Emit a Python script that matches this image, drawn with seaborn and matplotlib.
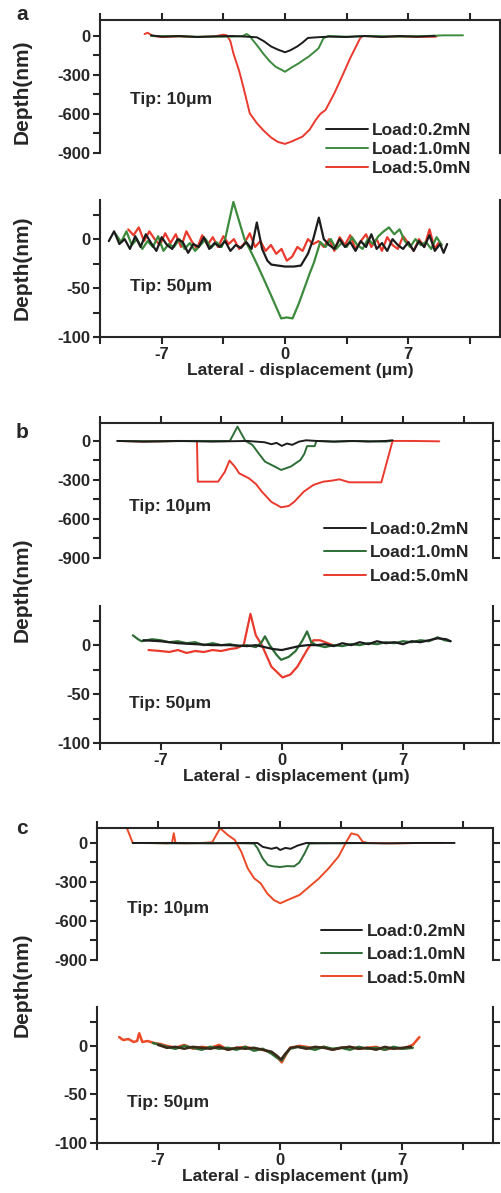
import numpy as np
import matplotlib
matplotlib.use("Agg")
import matplotlib.pyplot as plt
import seaborn as sns

# ---- data (x in um, depth in nm) ----
loads = ["Load:0.2mN", "Load:1.0mN", "Load:5.0mN"]

# panel a, tip 10um
a10_black_x = [-7.6, -7.0, -6.0, -5.0, -4.0, -3.0, -2.2, -1.6, -1.2, -0.8, -0.4, 0.0, 0.3, 0.7, 1.0, 1.3, 1.8, 2.5, 3.5, 4.5, 5.5, 6.5, 7.5, 8.5]
a10_black_y = [5, -5, 0, -8, -3, 0, -5, -10, -40, -80, -105, -125, -110, -80, -50, -15, -10, -5, -8, 0, -8, 0, -5, 0]
a10_green_x = [-7.6, -5.0, -3.0, -2.4, -2.18, -2.0, -1.9, -1.6, -1.25, -0.9, -0.54, -0.2, 0.0, 0.4, 0.78, 1.1, 1.34, 1.6, 1.9, 2.18, 2.46, 3.5, 5.0, 6.5, 8.0, 9.0, 10.1]
a10_green_y = [0, -5, -5, 0, 15, 0, -20, -70, -133, -190, -236, -260, -275, -240, -210, -180, -159, -130, -95, -18, 0, -5, 0, -5, 0, 5, 5]
a10_red_x = [-7.97, -7.8, -7.5, -7.0, -6.0, -5.0, -4.0, -3.5, -3.3, -3.1, -2.93, -2.6, -2.37, -2.0, -1.6, -1.25, -0.8, -0.4, 0.0, 0.4, 0.99, 1.4, 1.74, 2.0, 2.3, 2.8, 3.23, 3.7, 4.26, 4.4, 5.5, 6.5, 7.5, 8.6]
a10_red_y = [15, 25, 0, -8, -3, -8, -3, 10, 5, -40, -133, -270, -390, -595, -670, -723, -780, -815, -830, -810, -774, -720, -646, -600, -569, -440, -313, -170, -18, 0, -5, -3, -8, -5]

# panel a, tip 50um
a50_black_x = [-10.0, -9.7, -9.4, -9.1, -8.8, -8.5, -8.2, -7.9,
               -7.6, -7.3, -7.0, -6.7, -6.4, -6.1, -5.8, -5.5,
               -5.2, -4.9, -4.6, -4.3, -4.0, -3.7, -3.4, -3.1,
               -2.8, -2.5, -2.2, -1.9, -1.6, -1.3, -1.0, -0.78,
               -0.4, 0.0, 0.5, 0.9, 1.3, 1.6, 1.92, 2.2,
               2.5, 2.8, 3.1, 3.4, 3.7, 4.0, 4.3, 4.6,
               4.9, 5.2, 5.5, 5.8, 6.1, 6.4, 6.7, 7.0,
               7.3, 7.6, 7.9, 8.2, 8.5, 8.8, 9.0, 9.2]
a50_black_y = [-2, 8, -5, 0, -10, 3, -8, 5,
               -4, -12, 2, -6, -10, 0, -3, -14,
               -5, -8, 2, -10, -4, -8, -2, -12,
               -6, -9, -3, -10, 17, -10, -22, -26,
               -27, -28, -28, -27, -15, 0, 22, 0,
               -6, -10, 0, -8, -3, -12, -2, -8,
               5, -10, -4, -12, 0, -6, -10, -3,
               -12, -2, -8, 4, -12, -5, -14, -5]
a50_green_x = [-9.6, -9.3, -9.0, -8.7, -8.4, -8.1, -7.8, -7.5,
               -7.2, -6.9, -6.6, -6.3, -6.0, -5.7, -5.4, -5.1,
               -4.8, -4.5, -4.2, -3.9, -3.6, -3.4, -2.93, -2.3,
               -1.9, -1.53, -1.1, -0.78, -0.22, 0.1, 0.43, 0.8,
               1.08, 1.4, 1.64, 2.0, 2.3, 2.6, 2.9, 3.2,
               3.5, 3.8, 4.1, 4.4, 4.7, 5.0, 5.3, 5.6,
               5.9, 6.2, 6.5, 6.8, 7.1, 7.4, 7.7, 8.0,
               8.3, 8.6, 8.9]
a50_green_y = [5, -3, 8, -6, 0, -10, -2, -8,
               3, -12, -5, -8, 0, -10, -4, -12,
               -6, 0, -9, -3, -8, 0, 38, 0,
               -14, -28, -45, -58, -81, -80, -81, -65,
               -51, -35, -24, -3, -8, 0, -10, -4,
               -8, 2, -6, -10, 0, -5, 3, 8,
               12, 5, 10, -2, -8, 0, -6, -3,
               -10, 2, -6]
a50_red_x = [-8.9, -8.6, -8.3, -8.0, -7.7, -7.4, -7.1, -6.8,
             -6.5, -6.2, -5.9, -5.6, -5.3, -5.0, -4.7, -4.4,
             -4.1, -3.8, -3.5, -3.2, -2.9, -2.6, -2.3, -2.0,
             -1.7, -1.4, -1.1, -0.8, -0.5, -0.2, 0.1, 0.4,
             0.7, 1.0, 1.3, 1.6, 1.9, 2.2, 2.5, 2.8,
             3.1, 3.4, 3.7, 4.0, 4.3, 4.6, 4.9, 5.2,
             5.5, 5.8, 6.1, 6.4, 6.7, 7.0, 7.3, 7.6,
             7.9, 8.2, 8.5, 8.7]
a50_red_y = [10, 4, 12, -2, 8, 0, -6, 6,
             -4, 5, -8, 8, -2, -10, 4, -6,
             2, -8, 3, -5, 0, -10, -4, 6,
             -8, -2, -12, -6, -15, -10, -22, -18,
             -8, -12, 0, -5, -2, -8, 0, -12,
             2, -6, 4, -10, -2, 5, -8, 0,
             -12, 2, -6, -10, 3, -4, -12, 0,
             -8, 10, -10, -4]

# panel b, tip 10um
b10_black_x = [-9.5, -8.0, -6.0, -4.0, -2.0, -1.0, -0.6, -0.3, 0.0, 0.3, 0.6, 1.0, 1.4, 2.0, 3.0, 4.0, 5.0, 6.0, 6.4]
b10_black_y = [0, -5, 0, -5, 0, -10, -25, -15, -38, -20, -30, -5, 5, 0, -5, 0, -5, 0, 5]
b10_green_x = [-9.5, -7.0, -5.0, -3.0, -2.56, -2.1, -1.7, -1.34, -0.97, -0.41, -0.04, 0.52, 1.08, 1.3, 1.46, 1.9, 2.0, 3.0, 4.5, 6.0, 6.3]
b10_green_y = [0, -3, 0, 0, 110, 0, -30, -95, -159, -197, -223, -197, -146, -100, -40, -40, 0, -5, 0, -5, 0]
b10_red_x = [-9.46, -8.0, -6.0, -4.9, -4.85, -3.68, -3.3, -3.02, -2.7, -2.46, -1.9, -1.5, -1.15, -0.6, -0.04, 0.4, 0.71, 1.27, 1.83, 2.4, 2.9, 3.33, 3.9, 4.5, 5.75, 6.4, 7.5, 9.1]
b10_red_y = [0, -5, 0, 0, -313, -313, -240, -151, -200, -249, -287, -330, -390, -469, -510, -500, -469, -390, -338, -313, -305, -295, -318, -318, -318, 0, 0, -3]

# panel b, tip 50um
b50_black_x = [-8.0, -7.0, -6.0, -5.0, -4.0, -3.0, -2.0, -1.5, -1.0, -0.5, 0.0, 0.5, 1.0, 1.5, 2.0, 2.5, 3.0, 3.5, 4.0, 4.5, 5.0, 5.5, 6.0, 6.5, 7.0, 7.5, 8.0, 8.5, 9.0, 9.5, 9.75]
b50_black_y = [5, 4, 2, 1, 0, 0, -1, 0, -2, -4, -5, -3, -1, 0, 0, 1, -1, 2, 0, 3, 1, 4, 2, 3, 1, 4, 3, 5, 7, 6, 4]
b50_green_x = [-8.6, -8.3, -8.1, -7.5, -7.0, -6.5, -6.0, -5.5, -5.0, -4.5, -4.0, -3.5, -3.0, -2.5, -2.0, -1.5, -1.2, -0.97, -0.7, -0.3, -0.04, 0.4, 0.8, 1.2, 1.46, 1.7, 2.0, 2.5, 3.0, 3.5, 4.0, 4.5, 5.0, 5.5, 6.0, 6.5, 7.0, 7.5, 8.0, 8.5, 9.0, 9.4, 9.75]
b50_green_y = [10, 6, 4, 6, 5, 3, 4, 2, 3, 0, 2, 0, 1, -1, 0, -2, 2, 9, 0, -10, -15, -12, -6, 5, 14, 3, 0, -2, 0, -1, 1, 0, 2, 1, 3, 2, 4, 3, 5, 4, 8, 5, 4]
b50_red_x = [-7.7, -7.0, -6.5, -6.0, -5.5, -5.0, -4.5, -4.0, -3.5, -3.0, -2.6, -2.2, -1.81, -1.5, -1.15, -0.6, 0.04, 0.5, 0.9, 1.46, 1.83, 2.2, 2.5, 2.95]
b50_red_y = [-5, -6, -7, -5, -8, -6, -7, -5, -6, -4, -3, 0, 32, 10, 0, -22, -33, -30, -22, -5, 5, 5, 3, 0]

# panel c, tip 10um
c10_black_x = [-8.45, -6.0, -4.0, -2.0, -1.3, -1.0, -0.5, -0.2, 0.0, 0.3, 0.6, 1.0, 1.5, 2.5, 4.0, 6.0, 8.0, 10.0]
c10_black_y = [0, 0, -3, 0, 0, -30, -45, -35, -54, -38, -45, -20, 0, -3, 0, -3, 0, 0]
c10_green_x = [-8.45, -6.0, -4.0, -2.0, -1.5, -1.3, -1.0, -0.7, -0.4, 0.0, 0.4, 0.8, 1.1, 1.4, 1.67, 2.5, 3.5, 5.0]
c10_green_y = [0, -3, 0, -3, -5, -40, -120, -170, -180, -185, -178, -180, -150, -80, -5, 0, -3, 0]
c10_red_x = [-8.82, -8.45, -7.5, -6.5, -6.2, -6.1, -6.0, -5.5, -4.5, -3.9, -3.44, -3.0, -2.6, -2.23, -1.86, -1.49, -1.12, -0.75, -0.37, 0.0, 0.56, 1.11, 1.67, 2.23, 2.78, 3.34, 3.8, 4.08, 4.45, 4.73, 5.0, 6.5, 8.0, 9.4]
c10_red_y = [125, 0, 0, -3, 0, 75, 0, -3, 0, 5, 113, 61, 23, -67, -195, -272, -310, -387, -438, -464, -431, -400, -336, -272, -195, -105, 10, 74, 61, 10, 0, -3, 0, 0]

# panel c, tip 50um
c50_black_x = [-7.0, -6.5, -6.0, -5.5, -5.0, -4.5, -4.0, -3.5, -3.0, -2.5, -2.0, -1.5, -1.0, -0.5, -0.2, 0.05, 0.3, 0.6, 1.0, 1.5, 2.0, 2.5, 3.0, 3.5, 4.0, 4.5, 5.0, 5.5, 6.0, 6.5, 7.0, 7.5]
c50_black_y = [1, -2, -1, -3, -1, -2, -3, -1, -4, -2, -3, -2, -4, -6, -10, -14, -8, -2, -1, -3, -1, -2, -4, -2, -1, -3, -2, -4, -1, -3, -2, -1]
c50_green_x = [-7.3, -6.9, -6.5, -6.0, -5.5, -5.0, -4.5, -4.0, -3.5, -3.0, -2.5, -2.0, -1.5, -1.0, -0.5, -0.2, 0.09, 0.3, 0.56, 1.0, 1.5, 2.0, 2.5, 3.0, 3.5, 4.0, 4.5, 5.0, 5.5, 6.0, 6.5, 7.0, 7.6]
c50_green_y = [3, 1, -1, -3, 0, -2, -4, -1, -3, -2, -4, -1, -5, -3, -8, -12, -15, -9, -3, -1, -2, -4, -1, -3, -2, -4, -1, -3, -2, -4, -1, -3, -2]
c50_red_x = [-9.23, -9.0, -8.7, -8.4, -8.2, -8.08, -7.9, -7.6, -7.24, -6.9, -6.5, -6.0, -5.5, -5.0, -4.5, -4.0, -3.5, -3.0, -2.5, -2.0, -1.5, -1.0, -0.5, -0.2, 0.09, 0.3, 0.56, 1.11, 1.5, 2.0, 2.5, 3.0, 3.5, 4.0, 4.5, 5.0, 5.5, 6.0, 6.5, 7.0, 7.3, 7.6, 7.98]
c50_red_y = [9, 6, 7, 4, 5, 13, 4, 5, 3, 2, 0, -2, 1, -3, -1, -2, 1, -4, -2, -1, -3, -4, -7, -11, -17, -10, -2, 0, -1, -3, -1, -4, -2, -1, -3, -2, -1, -4, -2, -3, -1, 1, 9]

x_major = [-7, 0, 7]
x_minor = [-10.5, -3.5, 3.5, 10.5]

# ---- styling ----
sns.set_style("ticks")
plt.rcParams['font.family'] = ['Liberation Sans', 'DejaVu Sans']
plt.rcParams['font.weight'] = 'bold'
plt.rcParams['axes.linewidth'] = 1.5
plt.rcParams['axes.unicode_minus'] = False

BLACK = "#1c1c1c"
GREEN_A = "#3c8a3c"
GREEN = "#2e6e36"
RED = "#ea3a2e"
RED_C = "#ec4a26"

W, H = 502, 1193
fig = plt.figure(figsize=(W / 100, H / 100), dpi=100)


def add_ax(left, top, right, bottom):
    return fig.add_axes([left / W, 1 - bottom / H, (right - left) / W, (bottom - top) / H])


def common(ax):
    ax.set_xlim(-10.0, 12.2)
    ax.set_xticks(x_major)
    ax.set_xticks(x_minor, minor=True)
    ax.tick_params(which='both', direction='out', width=1.5, labelsize=12, pad=2)
    ax.tick_params(which='both', length=5)
    ax.tick_params(axis='y', which='both', left=True, right=True, labelright=False)


def style_top(ax, ymax):
    common(ax)
    ax.set_ylim(-900, ymax)
    ax.spines['bottom'].set_visible(False)
    ax.tick_params(axis='x', which='both', top=True, bottom=False, labeltop=False, labelbottom=False)
    ax.set_yticks([0, -300, -600, -900])
    ax.set_yticks([-150, -450, -750], minor=True)


def style_bottom(ax):
    common(ax)
    ax.set_ylim(-100, 40)
    ax.spines['top'].set_visible(False)
    ax.set_yticks([0, -50, -100])
    ax.set_yticks([25, -25, -75], minor=True)
    ax.set_xlabel("Lateral - displacement (μm)", fontsize=12.5, fontweight='bold', labelpad=1)


def draw(ax, series, lw):
    # series: list of (x, y, color); drawn red, green, black so black sits on top
    lines = []
    for x, y, c in series:
        sns.lineplot(x=x, y=y, color=c, linewidth=lw, sort=False, estimator=None, ax=ax)
        lines.append(ax.lines[-1])
    return lines


def add_legend(ax, lines, x0, y0, spacing):
    ax.legend([lines[2], lines[1], lines[0]], loads, loc='upper left', bbox_to_anchor=(x0, y0),
              frameon=False, borderpad=0, borderaxespad=0, handlelength=2.4, handletextpad=0.25,
              labelspacing=spacing, prop={'size': 12.5, 'weight': 'bold'})


def tip(ax, txt, yfrac):
    ax.text(0.075, yfrac, txt, transform=ax.transAxes, fontsize=12.5, fontweight='bold', va='center')


# panel a
ax = add_ax(100, 20, 500, 153)
style_top(ax, 123)
ln = draw(ax, [(a10_red_x, a10_red_y, RED), (a10_green_x, a10_green_y, GREEN_A), (a10_black_x, a10_black_y, BLACK)], 1.4)
add_legend(ax, ln, 0.565, 0.227, 0.22)
tip(ax, "Tip: 10μm", 0.40)

ax = add_ax(100, 200, 500, 337)
style_bottom(ax)
draw(ax, [(a50_red_x, a50_red_y, RED), (a50_green_x, a50_green_y, GREEN_A), (a50_black_x, a50_black_y, BLACK)], 1.6)
tip(ax, "Tip: 50μm", 0.365)

# panel b
ax = add_ax(100, 423, 493, 558)
style_top(ax, 138)
ln = draw(ax, [(b10_red_x, b10_red_y, RED), (b10_green_x, b10_green_y, GREEN), (b10_black_x, b10_black_y, BLACK)], 1.4)
add_legend(ax, ln, 0.57, 0.27, 0.48)
tip(ax, "Tip: 10μm", 0.378)

ax = add_ax(100, 606, 493, 743)
style_bottom(ax)
draw(ax, [(b50_red_x, b50_red_y, RED), (b50_green_x, b50_green_y, GREEN), (b50_black_x, b50_black_y, BLACK)], 1.6)
tip(ax, "Tip: 50μm", 0.29)

# panel c
ax = add_ax(97, 828, 493, 960)
style_top(ax, 115)
ln = draw(ax, [(c10_red_x, c10_red_y, RED_C), (c10_green_x, c10_green_y, GREEN), (c10_black_x, c10_black_y, BLACK)], 1.4)
add_legend(ax, ln, 0.565, 0.277, 0.48)
tip(ax, "Tip: 10μm", 0.39)

ax = add_ax(97, 1007, 493, 1143)
style_bottom(ax)
draw(ax, [(c50_red_x, c50_red_y, RED_C), (c50_green_x, c50_green_y, GREEN), (c50_black_x, c50_black_y, "#3a2a1a")], 1.8)
tip(ax, "Tip: 50μm", 0.30)

# panel letters and y labels
for letter, yp in [("a", 15), ("b", 433), ("c", 829)]:
    fig.text(22 / W, 1 - yp / H, letter, fontsize=15, fontweight='bold', ha='center', va='center')
for yp in [92, 268, 590, 985]:
    fig.text(22 / W, 1 - yp / H, "Depth(nm)", fontsize=15, fontweight='bold', rotation=90,
             ha='center', va='center')

fig.savefig("out.png", dpi=100)
